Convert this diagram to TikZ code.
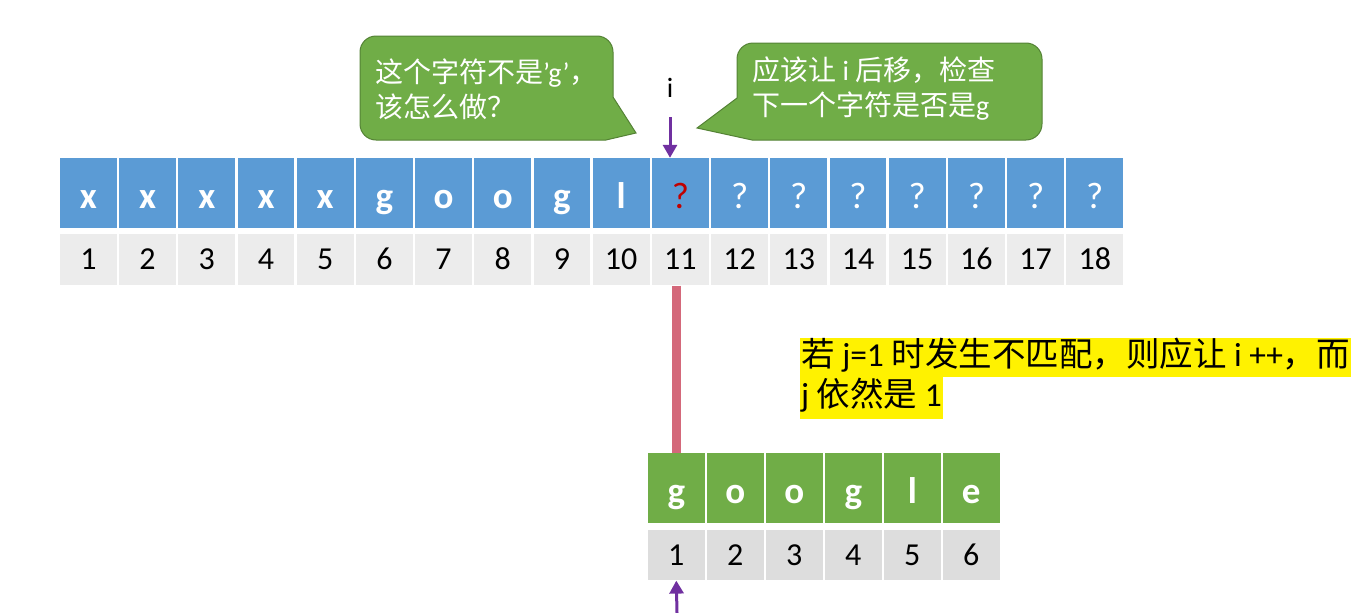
\documentclass[tikz,border=0pt]{standalone}
\usepackage{fontspec}
\setmainfont{Carlito}
\newfontfamily\cjk{Noto Sans CJK SC}
\usepackage{tikz}
\usetikzlibrary{positioning,arrows.meta}
\definecolor{cellblue}{RGB}{91, 155, 213}
\definecolor{cellgreen}{RGB}{112, 173, 71}
\definecolor{cellgray}{RGB}{236, 236, 236}
\definecolor{patgray}{RGB}{221, 221, 221}
\definecolor{bubbleedge}{RGB}{84, 130, 53}
\definecolor{pinkline}{RGB}{212, 104, 122}
\definecolor{ptrpurple}{RGB}{112, 48, 160}
\definecolor{qred}{RGB}{192, 0, 0}
\tikzstyle{mainchr} = [rectangle, fill=cellblue, text=white, minimum width=56.8pt, minimum height=70pt, inner sep=0pt, text height=30pt, text depth=0pt, font=\fontsize{37}{37}\selectfont\bfseries]
\tikzstyle{mainidx} = [rectangle, fill=cellgray, text=black, minimum width=56.8pt, minimum height=51pt, inner sep=0pt, text height=20pt, text depth=0pt, font=\fontsize{32}{32}\selectfont]
\tikzstyle{patchr} = [mainchr, fill=cellgreen, minimum width=56.6pt]
\tikzstyle{patidx} = [mainidx, fill=patgray, minimum width=56.6pt, minimum height=50pt]
\tikzstyle{bubble} = [draw=bubbleedge, line width=1pt, fill=cellgreen]
\tikzstyle{bubtext} = [text=white, align=left, inner sep=0pt, font=\fontsize{28}{35}\selectfont]
\tikzstyle{hl} = [fill=yellow, inner xsep=1pt, inner ysep=0pt, minimum height=39pt, text height=25pt, text depth=7pt, font=\fontsize{33.5}{33.5}\selectfont]
\tikzstyle{ptr}  = [draw=ptrpurple, line width=3pt, -{Triangle[length=13pt, width=14pt]}]

\begin{document}
\begin{tikzpicture}[x=1pt, y=-1pt]
\useasboundingbox (0,0) rectangle (1361,613);

% main string ============================
\node[mainchr] (t1) at (88.4,193) {x};
\node[mainchr, right=2pt of t1] (t2) {x};
\node[mainchr, right=2pt of t2] (t3) {x};
\node[mainchr, right=2pt of t3] (t4) {x};
\node[mainchr, right=2pt of t4] (t5) {x};
\node[mainchr, right=2pt of t5] (t6) {g};
\node[mainchr, right=2pt of t6] (t7) {o};
\node[mainchr, right=2pt of t7] (t8) {o};
\node[mainchr, right=2pt of t8] (t9) {g};
\node[mainchr, right=2pt of t9] (t10) {l};
\node[mainchr, right=2pt of t10] (t11) {\mdseries\textcolor{qred}{?}};
\node[mainchr, right=2pt of t11] (t12) {\mdseries ?};
\node[mainchr, right=2pt of t12] (t13) {\mdseries ?};
\node[mainchr, right=2pt of t13] (t14) {\mdseries ?};
\node[mainchr, right=2pt of t14] (t15) {\mdseries ?};
\node[mainchr, right=2pt of t15] (t16) {\mdseries ?};
\node[mainchr, right=2pt of t16] (t17) {\mdseries ?};
\node[mainchr, right=2pt of t17] (t18) {\mdseries ?};

% main indices
\node[mainidx, below=6pt of t1] (n1) {1};
\node[mainidx, below=6pt of t2] (n2) {2};
\node[mainidx, below=6pt of t3] (n3) {3};
\node[mainidx, below=6pt of t4] (n4) {4};
\node[mainidx, below=6pt of t5] (n5) {5};
\node[mainidx, below=6pt of t6] (n6) {6};
\node[mainidx, below=6pt of t7] (n7) {7};
\node[mainidx, below=6pt of t8] (n8) {8};
\node[mainidx, below=6pt of t9] (n9) {9};
\node[mainidx, below=6pt of t10] (n10) {10};
\node[mainidx, below=6pt of t11] (n11) {11};
\node[mainidx, below=6pt of t12] (n12) {12};
\node[mainidx, below=6pt of t13] (n13) {13};
\node[mainidx, below=6pt of t14] (n14) {14};
\node[mainidx, below=6pt of t15] (n15) {15};
\node[mainidx, below=6pt of t16] (n16) {16};
\node[mainidx, below=6pt of t17] (n17) {17};
\node[mainidx, below=6pt of t18] (n18) {18};

% pattern string =========================
\node[patchr] (p1) at (676.3,488) {g};
\node[patchr, right=2pt of p1] (p2) {o};
\node[patchr, right=2pt of p2] (p3) {o};
\node[patchr, right=2pt of p3] (p4) {g};
\node[patchr, right=2pt of p4] (p5) {l};
\node[patchr, right=2pt of p5] (p6) {e};

% pattern indices
\node[patidx, below=7pt of p1] (m1) {1};
\node[patidx, below=7pt of p2] (m2) {2};
\node[patidx, below=7pt of p3] (m3) {3};
\node[patidx, below=7pt of p4] (m4) {4};
\node[patidx, below=7pt of p5] (m5) {5};
\node[patidx, below=7pt of p6] (m6) {6};

% speech bubbles
\draw[bubble, rounded corners=16pt] (480,36) -- (613,36) [sharp corners] -- (613,97) -- (636,133) -- (606,140) [rounded corners=16pt] -- (360,140) -- (360,36) -- cycle;
\draw[bubble, rounded corners=16pt] (890,43) -- (737,43) [sharp corners] -- (737,98) -- (697,128) -- (752,140) [rounded corners=16pt] -- (1042,140) -- (1042,43) -- cycle;
\node[bubtext, anchor=west] (ask) at (375,89) {{\cjk 这个字符不是}'g'{\cjk ，}\\{\cjk 该怎么做？}};
\node[bubtext, anchor=west] (answer) at (752,89) {{\cjk 应该让} i {\cjk 后移，检查}\\{\cjk 下一个字符是否是}g};

% pointers
\node[font=\fontsize{28}{28}\selectfont] (ilabel) at (670,88) {i};
\coordinate (itail) at (670,117);
\coordinate (jtail) at (677,613);
\path[ptr] (itail) -- (itail |- t11.north);
\path[ptr] (jtail) -- (m1.south);

% alignment line
\draw[draw=pinkline, line width=9pt] (n11.south -| p1.north) -- (p1.north);

% note
\node[hl, anchor=west] (note1) at (800,357) {{\cjk 若} j=1 {\cjk 时发生不匹配，则应让} i ++{\cjk ，而}};
\node[hl, anchor=north west, minimum height=42pt] (note2) at (note1.south west) {j {\cjk 依然是} 1};

\end{tikzpicture}
\end{document}
